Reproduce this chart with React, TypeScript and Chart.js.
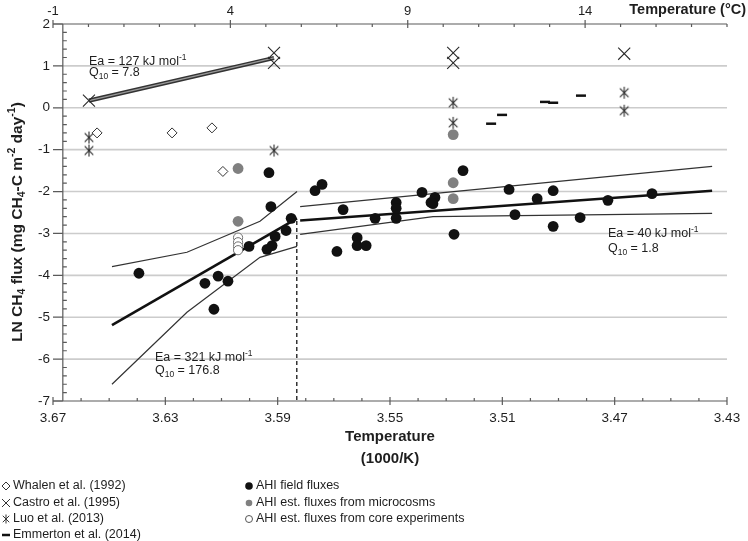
import React, { useEffect, useRef } from 'react';
import { Chart, registerables } from 'chart.js';
Chart.register(...registerables);

const FF = '"Liberation Sans", Arial, Helvetica, sans-serif';
const TXT = '#1e1e1e';

// axes
const xTickValues = [3.67, 3.63, 3.59, 3.55, 3.51, 3.47, 3.43];
const xTickLabels = ['3.67', '3.63', '3.59', '3.55', '3.51', '3.47', '3.43'];
const yTickValues = [2, 1, 0, -1, -2, -3, -4, -5, -6, -7];
const topTickValues = [-1, 4, 9, 14];
const topTickLabels = ['-1', '4', '9', '14'];
const yAxisCrossAt = 3.6665;

// series [1000/K, LN flux]
const whalen: [number, number][] = [[3.6543, -0.6], [3.6276, -0.6], [3.6134, -0.48], [3.6095, -1.52]];
const castro: [number, number][] = [[3.6572, 0.17], [3.5913, 1.31], [3.5913, 1.07], [3.5275, 1.31], [3.5275, 1.07], [3.4666, 1.29]];
const luo: [number, number][] = [[3.6572, -0.71], [3.6572, -1.02], [3.5913, -1.02], [3.5275, 0.12], [3.5275, -0.36], [3.4666, 0.36], [3.4666, -0.07]];
const emmerton: [number, number][] = [[3.514, -0.38], [3.5101, -0.17], [3.4948, 0.14], [3.4919, 0.12], [3.482, 0.29]];
const ahiField: [number, number][] = [
  [3.5931, -1.55], [3.5767, -1.98], [3.5742, -1.83], [3.5924, -2.36], [3.5852, -2.64], [3.587, -2.93],
  [3.5909, -3.07], [3.592, -3.29], [3.5938, -3.38], [3.6002, -3.31], [3.6394, -3.95], [3.6112, -4.02],
  [3.6077, -4.14], [3.6159, -4.19], [3.6127, -4.81], [3.5667, -2.43], [3.5689, -3.43], [3.5617, -3.1],
  [3.5617, -3.29], [3.5585, -3.29], [3.5553, -2.64], [3.5478, -2.26], [3.5478, -2.4], [3.5478, -2.64],
  [3.5386, -2.02], [3.5354, -2.26], [3.534, -2.14], [3.5347, -2.29], [3.524, -1.5], [3.5272, -3.02],
  [3.5076, -1.95], [3.5055, -2.55], [3.4976, -2.17], [3.4919, -1.98], [3.4919, -2.83], [3.4823, -2.62],
  [3.4724, -2.21], [3.4567, -2.05],
];
const ahiMicro: [number, number][] = [[3.6041, -1.45], [3.6041, -2.71], [3.5275, -0.64], [3.5275, -1.79], [3.5275, -2.17]];
const ahiCore: [number, number][] = [[3.6041, -3.1], [3.6041, -3.21], [3.6041, -3.31], [3.6041, -3.4]];

// fitted lines
const castroFit: [number, number][] = [[3.6572, 0.17], [3.5913, 1.19]];
const coldFit: [number, number][] = [[3.649, -5.19], [3.5831, -2.64]];
const coldUpper: [number, number][] = [[3.649, -3.79], [3.6223, -3.45], [3.5963, -2.71], [3.5831, -2.0]];
const coldLower: [number, number][] = [[3.649, -6.6], [3.6223, -4.88], [3.5963, -3.57], [3.5831, -3.31]];
const warmFit: [number, number][] = [[3.582, -2.69], [3.4353, -1.98]];
const warmUpper: [number, number][] = [[3.582, -2.36], [3.4353, -1.4]];
const warmLower: [number, number][] = [[3.582, -3.02], [3.5347, -2.6], [3.4353, -2.52]];
const breakLine: [number, number][] = [[3.5832, -2.7], [3.5832, -7]];

type Seg = [string, number];
const annotations: { segs: Seg[]; x: number; y: number }[] = [
  { segs: [['Ea = 127 kJ mol', 0], ['-1', 1]], x: 3.6572, y: 1.14 },
  { segs: [['Q', 0], ['10', -1], [' = 7.8', 0]], x: 3.6572, y: 0.86 },
  { segs: [['Ea = 321 kJ mol', 0], ['-1', 1]], x: 3.6337, y: -5.93 },
  { segs: [['Q', 0], ['10', -1], [' = 176.8', 0]], x: 3.6337, y: -6.24 },
  { segs: [['Ea = 40 kJ mol', 0], ['-1', 1]], x: 3.4724, y: -2.98 },
  { segs: [['Q', 0], ['10', -1], [' = 1.8', 0]], x: 3.4724, y: -3.33 },
];

const legendLeft = ['Whalen et al. (1992)', 'Castro et al. (1995)', 'Luo et al. (2013)', 'Emmerton et al. (2014)'];
const legendRight = ['AHI field fluxes', 'AHI est. fluxes from microcosms', 'AHI est. fluxes from core experiments'];

function drawRich(ctx: CanvasRenderingContext2D, segs: Seg[], x: number, yMid: number, size: number, bold: boolean, align: string) {
  const font = (s: number) => `${bold ? 'bold ' : ''}${s}px ${FF}`;
  let w = 0;
  for (const [t, k] of segs) {
    ctx.font = font(k ? size * 0.68 : size);
    w += ctx.measureText(t).width;
  }
  let cx = align === 'center' ? x - w / 2 : align === 'right' ? x - w : x;
  const base = yMid + size * 0.36;
  ctx.textAlign = 'left';
  ctx.textBaseline = 'alphabetic';
  for (const [t, k] of segs) {
    const s = k ? size * 0.68 : size;
    ctx.font = font(s);
    const dy = k === 1 ? -size * 0.4 : k === -1 ? size * 0.25 : 0;
    ctx.fillText(t, cx, base + dy);
    cx += ctx.measureText(t).width;
  }
}

function drawStarMark(g: CanvasRenderingContext2D, cx: number, cy: number, r: number) {
  const d = r * 0.72;
  g.beginPath();
  g.moveTo(cx - d, cy - d); g.lineTo(cx + d, cy + d);
  g.moveTo(cx + d, cy - d); g.lineTo(cx - d, cy + d);
  g.moveTo(cx, cy - r); g.lineTo(cx, cy + r);
  g.stroke();
}

function makeStar(): HTMLCanvasElement {
  const c = document.createElement('canvas');
  c.width = 14; c.height = 14;
  const g = c.getContext('2d')!;
  g.strokeStyle = '#2a2a2a';
  g.lineWidth = 1.1;
  drawStarMark(g, 7, 7, 6);
  return c;
}

const toPts = (a: [number, number][]) => a.map(([x, y]) => ({ x, y }));

export default function App() {
  const ref = useRef<HTMLCanvasElement>(null);
  useEffect(() => {
    const canvas = ref.current!;
    const star = makeStar();
    const pts = (label: string, data: [number, number][], extra: any) => ({ label, data: toPts(data), showLine: false, ...extra });
    const line = (label: string, data: [number, number][], color: string, width: number, dash: number[] = []) => ({
      label, data: toPts(data), showLine: true, borderColor: color, borderWidth: width, pointRadius: 0, borderDash: dash, fill: false, tension: 0,
    });

    const datasets: any[] = [
      pts('AHI core', ahiCore, { pointStyle: 'circle', pointRadius: 4.6, pointBackgroundColor: '#ffffff', pointBorderColor: '#707070', pointBorderWidth: 1 }),
      pts('AHI micro', ahiMicro, { pointStyle: 'circle', pointRadius: 5.4, pointBackgroundColor: '#808080', pointBorderColor: '#808080', pointBorderWidth: 0 }),
      pts('AHI field', ahiField, { pointStyle: 'circle', pointRadius: 5.4, pointBackgroundColor: '#111111', pointBorderColor: '#111111', pointBorderWidth: 0 }),
      pts('Whalen', whalen, { pointStyle: 'rectRot', pointRadius: 5, pointBackgroundColor: '#ffffff', pointBorderColor: '#333333', pointBorderWidth: 1 }),
      pts('Castro', castro, { pointStyle: 'crossRot', pointRadius: 8.5, pointBorderColor: '#2a2a2a', pointBorderWidth: 1.1 }),
      pts('Luo', luo, { pointStyle: star, pointRadius: 7 }),
      pts('Emmerton', emmerton, { pointStyle: 'line', pointRadius: 5, pointBorderColor: '#111111', pointBorderWidth: 2.5 }),
      line('castro fit inner', castroFit, '#9a9a9a', 1.4),
      line('castro fit outer', castroFit, '#333333', 4.2),
      line('cold fit', coldFit, '#111111', 2.6),
      line('cold upper', coldUpper, '#333333', 1.2),
      line('cold lower', coldLower, '#333333', 1.2),
      line('warm fit', warmFit, '#111111', 2.6),
      line('warm upper', warmUpper, '#333333', 1.2),
      line('warm lower', warmLower, '#333333', 1.2),
      line('break', breakLine, '#333333', 1.5, [4, 3]),
    ];

    const deco = {
      id: 'deco',
      beforeDatasetsDraw(chart: any) {
        const { ctx, scales } = chart;
        const x = scales.x, y = scales.y;
        const ax = x.getPixelForValue(yAxisCrossAt);
        ctx.save();
        ctx.strokeStyle = '#cccccc';
        ctx.lineWidth = 1.6;
        for (const v of yTickValues) {
          if (v === 2 || v === -7) continue;
          const py = y.getPixelForValue(v);
          ctx.beginPath(); ctx.moveTo(ax, py); ctx.lineTo(x.right, py); ctx.stroke();
        }
        ctx.restore();
      },
      afterDatasetsDraw(chart: any) {
        const { ctx, scales } = chart;
        const x = scales.x, y = scales.y, xt = scales.xTop;
        const ax = x.getPixelForValue(yAxisCrossAt);
        ctx.save();
        ctx.strokeStyle = '#5a5a5a';
        ctx.lineWidth = 1.2;
        // frame axes
        ctx.beginPath();
        ctx.moveTo(x.left, y.top); ctx.lineTo(x.right, y.top);
        ctx.moveTo(x.left, y.bottom); ctx.lineTo(x.right, y.bottom);
        ctx.moveTo(ax, y.top); ctx.lineTo(ax, y.bottom);
        ctx.stroke();
        // y ticks
        ctx.beginPath();
        for (const v of yTickValues) {
          const py = y.getPixelForValue(v);
          ctx.moveTo(x.left, py); ctx.lineTo(ax, py);
        }
        for (let i = 0; i <= 45; i++) {
          const v = -7 + i * 0.2;
          if (Math.abs(v - Math.round(v)) < 1e-6) continue;
          const py = y.getPixelForValue(v);
          ctx.moveTo(ax, py); ctx.lineTo(ax + 4, py);
        }
        // bottom ticks
        for (let i = 0; i <= 24; i++) {
          const px = x.getPixelForValue(3.43 + i * 0.01);
          ctx.moveTo(px, y.bottom - 3); ctx.lineTo(px, y.bottom);
        }
        for (const v of xTickValues) {
          const px = x.getPixelForValue(v);
          ctx.moveTo(px, y.bottom - 4); ctx.lineTo(px, y.bottom + 4);
        }
        // top ticks
        for (let v = -1; v <= 18; v++) {
          const px = xt.getPixelForValue(v);
          ctx.moveTo(px, y.top); ctx.lineTo(px, y.top + 3);
        }
        for (const v of topTickValues) {
          const px = xt.getPixelForValue(v);
          ctx.moveTo(px, y.top - 4); ctx.lineTo(px, y.top + 4);
        }
        ctx.stroke();

        // tick labels
        ctx.fillStyle = TXT;
        ctx.font = `13.5px ${FF}`;
        ctx.textAlign = 'right';
        ctx.textBaseline = 'middle';
        for (const v of yTickValues) ctx.fillText(String(v), x.left - 3, y.getPixelForValue(v));
        ctx.textAlign = 'center';
        xTickValues.forEach((v, i) => ctx.fillText(xTickLabels[i], x.getPixelForValue(v), y.bottom + 17));
        ctx.font = `13px ${FF}`;
        topTickValues.forEach((v, i) => ctx.fillText(topTickLabels[i], xt.getPixelForValue(v), y.top - 13));

        // titles
        ctx.font = `bold 14.5px ${FF}`;
        ctx.textAlign = 'right';
        ctx.fillText('Temperature (°C)', 746, 10);
        ctx.textAlign = 'center';
        const cxm = (x.left + x.right) / 2;
        ctx.font = `bold 15px ${FF}`;
        ctx.fillText('Temperature', cxm, 437);
        ctx.fillText('(1000/K)', cxm, 459);
        ctx.save();
        ctx.translate(16, 222);
        ctx.rotate(-Math.PI / 2);
        drawRich(ctx, [['LN CH', 0], ['4', -1], [' flux (mg CH', 0], ['4', -1], ['-C m', 0], ['-2', 1], [' day', 0], ['-1', 1], [')', 0]], 0, 0, 15.5, true, 'center');
        ctx.restore();

        // annotations
        for (const a of annotations) {
          drawRich(ctx, a.segs, x.getPixelForValue(a.x), y.getPixelForValue(a.y), 12.5, false, 'left');
        }

        // legend
        const rowY = [486, 503, 519, 535];
        ctx.font = `12.5px ${FF}`;
        ctx.textAlign = 'left';
        ctx.textBaseline = 'middle';
        legendLeft.forEach((t, i) => ctx.fillText(t, 13, rowY[i]));
        legendRight.forEach((t, i) => ctx.fillText(t, 256, rowY[i]));
        // legend symbols
        ctx.strokeStyle = '#333';
        ctx.lineWidth = 1;
        // diamond
        ctx.beginPath();
        ctx.moveTo(2, rowY[0]); ctx.lineTo(6, rowY[0] - 4); ctx.lineTo(10, rowY[0]); ctx.lineTo(6, rowY[0] + 4); ctx.closePath();
        ctx.stroke();
        // cross
        ctx.beginPath();
        ctx.moveTo(2, rowY[1] - 4); ctx.lineTo(10, rowY[1] + 4);
        ctx.moveTo(10, rowY[1] - 4); ctx.lineTo(2, rowY[1] + 4);
        ctx.stroke();
        // star
        drawStarMark(ctx, 6, rowY[2], 4.5);
        // dash
        ctx.lineWidth = 2.5;
        ctx.strokeStyle = '#111';
        ctx.beginPath(); ctx.moveTo(2, rowY[3]); ctx.lineTo(10, rowY[3]); ctx.stroke();
        // circles
        ctx.fillStyle = '#111';
        ctx.beginPath(); ctx.arc(249, rowY[0], 3.8, 0, Math.PI * 2); ctx.fill();
        ctx.fillStyle = '#808080';
        ctx.beginPath(); ctx.arc(249, rowY[1], 3.3, 0, Math.PI * 2); ctx.fill();
        ctx.strokeStyle = '#555';
        ctx.lineWidth = 1;
        ctx.beginPath(); ctx.arc(249, rowY[2], 3.5, 0, Math.PI * 2); ctx.stroke();
        ctx.restore();
      },
    };

    const chart = new Chart(canvas, {
      type: 'scatter',
      data: { datasets },
      options: {
        responsive: false,
        animation: false,
        devicePixelRatio: 1,
        events: [],
        layout: { padding: { left: 53, right: 21, top: 24, bottom: 140 } },
        plugins: { legend: { display: false }, tooltip: { enabled: false } },
        scales: {
          x: { type: 'linear', min: 3.43, max: 3.67, reverse: true, display: false },
          xTop: { type: 'linear', axis: 'x', position: 'top', min: -1, max: 18, display: false },
          y: { type: 'linear', min: -7, max: 2, display: false },
        },
      } as any,
      plugins: [deco],
    });
    return () => chart.destroy();
  }, []);

  return (
    <div style={{ position: 'absolute', left: 0, top: 0, width: 748, height: 541, background: '#ffffff' }}>
      <canvas ref={ref} width={748} height={541} style={{ width: 748, height: 541, display: 'block' }} />
    </div>
  );
}
